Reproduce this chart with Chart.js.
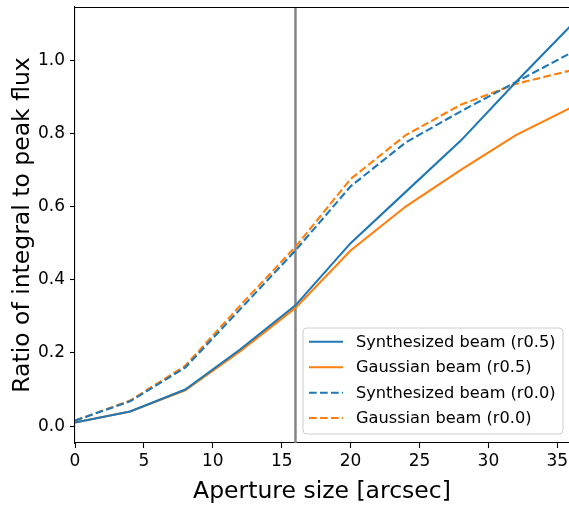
<!DOCTYPE html>
<html>
<head>
<meta charset="utf-8">
<script src="https://cdn.jsdelivr.net/npm/chart.js@4.4.1/dist/chart.umd.min.js"></script>
<style>
html,body{margin:0;padding:0;background:#fff;}
#wrap{width:569px;height:506px;}
</style>
</head>
<body>
<div id="wrap"><canvas id="c" width="569" height="506"></canvas></div>
<script>
const apertures = [0, 4, 8, 12, 16, 20, 24, 28, 32, 36];
const synthR05 = [0.010, 0.040, 0.100, 0.210, 0.330, 0.500, 0.640, 0.780, 0.940, 1.095];
const gaussR05 = [0.010, 0.040, 0.098, 0.205, 0.323, 0.480, 0.600, 0.700, 0.795, 0.870];
const synthR00 = [0.015, 0.068, 0.160, 0.320, 0.480, 0.655, 0.775, 0.860, 0.940, 1.020];
const gaussR00 = [0.015, 0.070, 0.165, 0.330, 0.490, 0.675, 0.795, 0.878, 0.935, 0.972];
const markerX = 16;
const xTicks = [0, 5, 10, 15, 20, 25, 30, 35];
const yTicks = [0.0, 0.2, 0.4, 0.6, 0.8, 1.0];
const seriesLabels = ['Synthesized beam (r0.5)', 'Gaussian beam (r0.5)', 'Synthesized beam (r0.0)', 'Gaussian beam (r0.0)'];

const BLUE = '#1f77b4', ORANGE = '#ff7f0e';
const DASH = [7.7, 3.3];
const LW = 2.1;
const FONT = "'DejaVu Sans', sans-serif";

function pts(ys){ return apertures.map((x,i)=>({x:x, y:ys[i]})); }

const datasets = [
  {label: seriesLabels[0], data: pts(synthR05), borderColor: BLUE, borderWidth: LW, pointRadius: 0, fill:false, tension:0},
  {label: seriesLabels[1], data: pts(gaussR05), borderColor: ORANGE, borderWidth: LW, pointRadius: 0, fill:false, tension:0},
  {label: seriesLabels[2], data: pts(synthR00), borderColor: BLUE, borderWidth: LW, borderDash: DASH, pointRadius: 0, fill:false, tension:0},
  {label: seriesLabels[3], data: pts(gaussR00), borderColor: ORANGE, borderWidth: LW, borderDash: DASH, pointRadius: 0, fill:false, tension:0},
  {label: 'marker', data: [{x:markerX, y:-1}, {x:markerX, y:2}], borderColor: 'rgba(128,128,128,0.95)', borderWidth: 2.5, pointRadius: 0, fill:false, order: 10}
];

const frame = {
  id: 'frame',
  afterDatasetsDraw(chart){
    const {ctx, chartArea:a} = chart;
    ctx.save();
    ctx.strokeStyle = '#000';
    ctx.lineWidth = 1.1;
    ctx.beginPath();
    ctx.moveTo(a.left, a.top + 0.5);
    ctx.lineTo(a.right + 2, a.top + 0.5);
    ctx.stroke();
    ctx.restore();
  }
};

const legendBox = {
  id: 'legendBox',
  afterDatasetsDraw(chart){
    const ctx = chart.ctx;
    const L = 303, T = 328, R = 563, B = 434, r = 4;
    ctx.save();
    ctx.beginPath();
    ctx.moveTo(L + r, T);
    ctx.lineTo(R - r, T); ctx.arcTo(R, T, R, T + r, r);
    ctx.lineTo(R, B - r); ctx.arcTo(R, B, R - r, B, r);
    ctx.lineTo(L + r, B); ctx.arcTo(L, B, L, B - r, r);
    ctx.lineTo(L, T + r); ctx.arcTo(L, T, L + r, T, r);
    ctx.closePath();
    ctx.fillStyle = 'rgba(255,255,255,0.8)';
    ctx.fill();
    ctx.strokeStyle = '#cccccc';
    ctx.lineWidth = 1;
    ctx.stroke();
    const rows = [341.7, 367.2, 392.7, 418.0];
    ctx.font = '16.2px ' + FONT;
    ctx.textBaseline = 'middle';
    ctx.textAlign = 'left';
    for (let i = 0; i < 4; i++){
      const ds = chart.data.datasets[i];
      ctx.beginPath();
      ctx.setLineDash(ds.borderDash || []);
      ctx.strokeStyle = ds.borderColor;
      ctx.lineWidth = LW;
      ctx.moveTo(309, rows[i]);
      ctx.lineTo(343, rows[i]);
      ctx.stroke();
      ctx.setLineDash([]);
      ctx.fillStyle = '#000';
      ctx.fillText(ds.label, 356, rows[i] + 1);
    }
    ctx.restore();
  }
};

new Chart(document.getElementById('c'), {
  type: 'line',
  data: { datasets },
  plugins: [frame, legendBox],
  options: {
    responsive: false,
    animation: false,
    layout: { padding: { top: 7, right: 0, left: 0, bottom: 0 } },
    plugins: { legend: { display: false }, tooltip: { enabled: false } },
    scales: {
      x: {
        type: 'linear', min: 0, max: 35.85,
        afterBuildTicks: s => { s.ticks = xTicks.map(v => ({value: v})); },
        afterFit: s => { s.height = 63; s.paddingLeft = 0; s.paddingRight = 0; },
        grid: { drawOnChartArea: false, drawTicks: true, tickLength: 5, tickColor: '#000', tickWidth: 1.1 },
        border: { display: true, color: '#000', width: 1.1 },
        ticks: { color: '#000', font: { family: FONT, size: 17 }, padding: 3, maxRotation: 0, autoSkip: false },
        title: { display: true, text: 'Aperture size [arcsec]', color: '#000', font: { family: FONT, size: 23.5 }, padding: { top: 0, bottom: 0 } }
      },
      y: {
        type: 'linear', min: -0.046, max: 1.145,
        afterBuildTicks: s => { s.ticks = yTicks.map(v => ({value: v})); },
        afterFit: s => { s.width = 75; s.paddingTop = 0; s.paddingBottom = 0; },
        grid: { drawOnChartArea: false, drawTicks: true, tickLength: 5, tickColor: '#000', tickWidth: 1.1 },
        border: { display: true, color: '#000', width: 1.1 },
        ticks: { color: '#000', font: { family: FONT, size: 17 }, padding: 5, callback: v => Number(v).toFixed(1) },
        title: { display: true, text: 'Ratio of integral to peak flux', color: '#000', font: { family: FONT, size: 23.5 }, padding: { top: 9, bottom: 0 } }
      }
    }
  }
});
</script>
</body>
</html>
